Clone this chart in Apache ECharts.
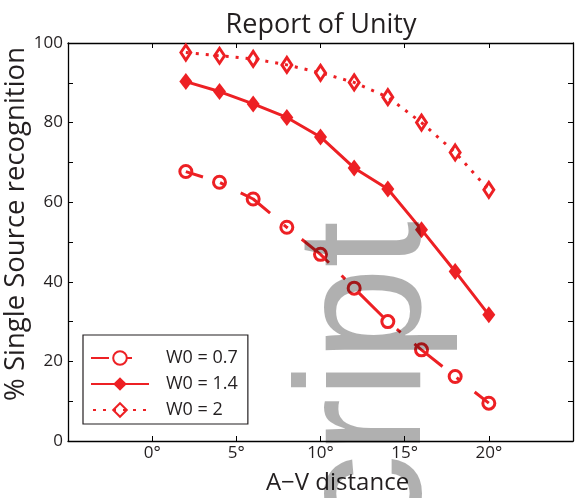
<!DOCTYPE html>
<html>
<head>
<meta charset="utf-8">
<script src="https://cdn.jsdelivr.net/npm/echarts@6/dist/echarts.min.js"></script>
<style>
  html, body { margin: 0; padding: 0; background: #fff; }
  #chart { width: 576px; height: 498px; }
</style>
</head>
<body>
<div id="chart"></div>
<script>
// A-V distance (degrees) at which recognition was measured
const distances = [2, 4, 6, 8, 10, 12, 14, 16, 18, 20];
// % single-source recognition for each W0 setting
const w0_07 = [67.7, 65.0, 60.8, 53.7, 46.9, 38.4, 30.0, 22.9, 16.2, 9.5];
const w0_14 = [90.3, 87.8, 84.7, 81.3, 76.4, 68.6, 63.3, 53.1, 42.6, 31.7];
const w0_2  = [97.6, 96.8, 96.0, 94.5, 92.5, 90.1, 86.4, 80.0, 72.5, 63.1];
const seriesNames = ['W0 = 0.7', 'W0 = 1.4', 'W0 = 2'];
const xTicks = [0, 5, 10, 15, 20];
const yTicks = [0, 20, 40, 60, 80, 100];

const RED = '#ed2024';
const INK = '#231f20';
const FONT = '"Open Sans", sans-serif';

const pairs = vals => distances.map((d, i) => [d, vals[i]]);

const chart = echarts.init(document.getElementById('chart'), null, { renderer: 'canvas' });

// shared look of the boxed frame: black spine, short inward ticks
const frameAxis = {
  axisLine: { show: true, onZero: false, lineStyle: { color: '#000', width: 1.3 } },
  axisTick: { show: true, inside: true, length: 5, lineStyle: { color: '#000', width: 1 } },
  splitLine: { show: false },
  nameMoveOverlap: false
};

chart.setOption({
  animation: false,
  backgroundColor: '#fff',
  title: {
    text: 'Report of Unity',
    left: 316,
    textAlign: 'center',
    top: 7,
    textStyle: { fontFamily: FONT, fontSize: 27, fontWeight: 'normal', color: INK }
  },
  grid: { left: 68, right: 3, top: 43, bottom: 57, containLabel: false, outerBoundsMode: 'none' },
  legend: {
    data: seriesNames,
    orient: 'vertical',
    left: 83,
    top: 335,
    width: 164,
    itemWidth: 58,
    itemHeight: 17,
    itemGap: 8,
    padding: [14, 10, 5, 7],
    backgroundColor: '#fff',
    borderColor: INK,
    borderWidth: 1.2,
    borderRadius: 0,
    textStyle: { fontFamily: FONT, fontSize: 18, color: INK, padding: [0, 0, 0, 12] }
  },
  xAxis: [
    Object.assign({
      type: 'value', position: 'bottom', min: -5, max: 25, interval: 5,
      name: 'A\u2212V distance', nameLocation: 'middle', nameGap: 30,
      nameTextStyle: { fontFamily: FONT, fontSize: 24, color: INK, padding: [0, 0, 0, 34] },
      axisLabel: {
        margin: 4, fontFamily: FONT, fontSize: 17, color: INK,
        formatter: v => xTicks.indexOf(v) >= 0 ? v + '\u00b0' : ''
      }
    }, frameAxis),
    Object.assign({
      type: 'value', position: 'top', min: -5, max: 25, interval: 5,
      axisLabel: { show: false }
    }, frameAxis)
  ],
  yAxis: [
    Object.assign({
      type: 'value', position: 'left', min: 0, max: 100, interval: 10,
      name: '% Single Source recognition', nameLocation: 'middle', nameGap: 38,
      nameTextStyle: { fontFamily: FONT, fontSize: 27.5, color: INK, padding: [0, 0, 0, 36] },
      axisLabel: {
        margin: 5, fontFamily: FONT, fontSize: 17, color: INK,
        formatter: v => yTicks.indexOf(v) >= 0 ? String(v) : ''
      }
    }, frameAxis),
    Object.assign({
      type: 'value', position: 'right', min: 0, max: 100, interval: 10,
      axisLabel: { show: false }
    }, frameAxis)
  ],
  series: [
    {
      name: seriesNames[0], type: 'line', data: pairs(w0_07),
      symbol: 'circle', symbolSize: 12,
      lineStyle: { color: RED, width: 3, type: [36, 18, 5, 18], dashOffset: 18 },
      itemStyle: { color: 'rgba(255,255,255,0)', borderColor: RED, borderWidth: 3 },
      z: 3
    },
    {
      name: seriesNames[1], type: 'line', data: pairs(w0_14),
      symbol: 'diamond', symbolSize: [13, 17],
      lineStyle: { color: RED, width: 3 },
      itemStyle: { color: RED, borderWidth: 0 },
      z: 3
    },
    {
      name: seriesNames[2], type: 'line', data: pairs(w0_2),
      symbol: 'diamond', symbolSize: [10, 15],
      lineStyle: { color: RED, width: 3, type: [3, 7] },
      itemStyle: { color: 'rgba(255,255,255,0)', borderColor: RED, borderWidth: 3 },
      z: 3
    }
  ],
  graphic: [
    {
      // translucent rotated watermark laid over the plot
      type: 'text',
      x: 371, y: 221,
      rotation: Math.PI / 2,
      scaleY: 1.06,
      z: 100,
      silent: true,
      style: {
        text: 'Manuscript',
        font: '168px "Liberation Sans", Arial, sans-serif',
        fill: 'rgba(0,0,0,0.31)',
        align: 'right',
        verticalAlign: 'middle'
      }
    }
  ]
});
</script>
</body>
</html>
